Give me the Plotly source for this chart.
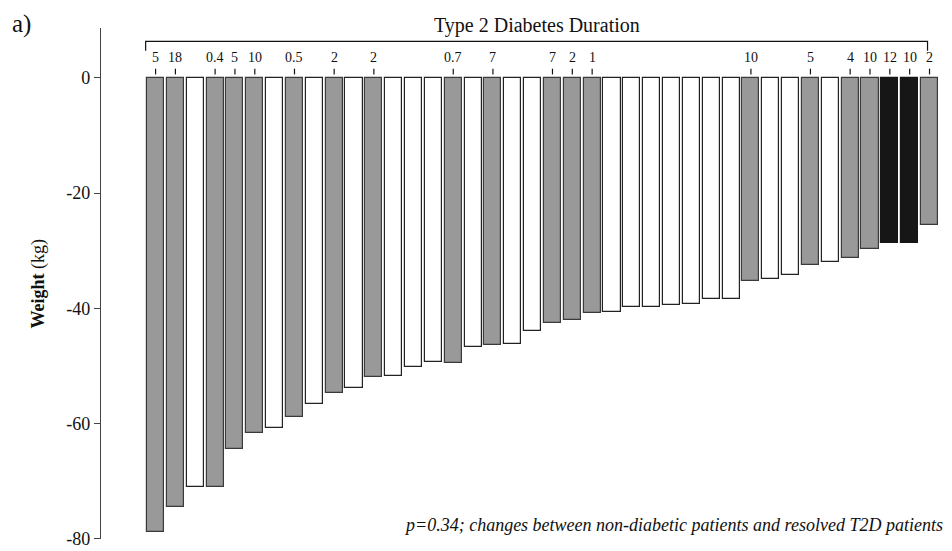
import plotly.graph_objects as go

# ---- data ----
patients = list(range(1, 41))
weight_change = [-78.9, -74.5, -71.0, -71.0, -64.4, -61.7, -60.8, -58.8, -56.6, -54.7,
                 -53.8, -52.0, -51.7, -50.2, -49.4, -49.5, -46.8, -46.4, -46.2, -44.0,
                 -42.5, -42.0, -40.9, -40.6, -39.8, -39.7, -39.4, -39.2, -38.4, -38.3,
                 -35.2, -34.9, -34.3, -32.5, -31.9, -31.3, -29.7, -28.7, -28.6, -25.5]
t2d_duration = ["5", "18", "", "0.4", "5", "10", "", "0.5", "", "2",
                "", "2", "", "", "", "0.7", "", "7", "", "",
                "7", "2", "1", "", "", "", "", "", "", "",
                "10", "", "", "5", "", "4", "10", "12", "10", "2"]
group = ["resolved", "resolved", "none", "resolved", "resolved", "resolved", "none", "resolved", "none", "resolved",
         "none", "resolved", "none", "none", "none", "resolved", "none", "resolved", "none", "none",
         "resolved", "resolved", "resolved", "none", "none", "none", "none", "none", "none", "none",
         "resolved", "none", "none", "resolved", "none", "resolved", "resolved", "persistent", "persistent", "resolved"]
ytick_vals = [0, -20, -40, -60, -80]
ytick_text = ["0", "-20", "-40", "-60", "-80"]

fill_map = {"resolved": "#999999", "none": "#ffffff", "persistent": "#161616"}
line_map = {"resolved": "#3a3a3a", "none": "#222222", "persistent": "#161616"}

FONT = "Liberation Serif, Times New Roman, serif"

fig = go.Figure()
fig.add_trace(go.Bar(
    x=patients, y=weight_change, width=0.86,
    marker=dict(color=[fill_map[g] for g in group],
                line=dict(color=[line_map[g] for g in group], width=1.2)),
    showlegend=False, hoverinfo="x+y",
))

shapes = []
annotations = []
# bracket across the top
x_left = patients[0] - 0.5
x_right = patients[-1] - 0.1
shapes.append(dict(type="path", xref="x", yref="y",
                   path=f"M {x_left},4.7 L {x_left},6.33 L {x_right},6.33 L {x_right},4.7",
                   line=dict(color="#111", width=1.2)))
annotations.append(dict(x=(x_left + x_right) / 2, y=6.33, xref="x", yref="y",
                        text="Type 2 Diabetes Duration", showarrow=False,
                        yanchor="bottom", yshift=2,
                        font=dict(family=FONT, size=20, color="#111")))
# duration labels
for p, d in zip(patients, t2d_duration):
    if d:
        shapes.append(dict(type="line", xref="x", yref="y", x0=p, x1=p, y0=0.6, y1=1.6,
                           line=dict(color="#111", width=1.2)))
        annotations.append(dict(x=p, y=3.5, xref="x", yref="y", text=d, showarrow=False,
                                yanchor="middle", font=dict(family=FONT, size=14, color="#111")))

annotations.append(dict(x=-0.0746, y=0.5, xref="paper", yref="paper", text="<b>Weight</b> (kg)",
                        textangle=-90, showarrow=False, xanchor="center", yanchor="middle",
                        font=dict(family=FONT, size=18, color="#111")))
annotations.append(dict(x=-0.108, y=1.0, xref="paper", yref="paper", text="a)",
                        showarrow=False, xanchor="left", yanchor="middle", yshift=4,
                        font=dict(family=FONT, size=25, color="#111")))
annotations.append(dict(x=1.0, y=-79.5, xref="paper", yref="y",
                        text="<i>p=0.34; changes between non-diabetic patients and resolved T2D patients</i>",
                        showarrow=False, xanchor="right", yanchor="bottom", yshift=-1,
                        font=dict(family=FONT, size=18, color="#111")))

fig.update_layout(
    width=944, height=551,
    margin=dict(l=93, r=7, t=20, b=20),
    paper_bgcolor="white", plot_bgcolor="white",
    shapes=shapes, annotations=annotations,
    bargap=0,
    xaxis=dict(range=[-1.75, 40.78], visible=False, fixedrange=True, automargin=False),
    yaxis=dict(range=[-80.05, 8.66], showgrid=False, zeroline=False, automargin=False,
               showline=True, linecolor="#444", linewidth=1.2,
               ticks="outside", ticklen=6, tickcolor="#444", tickwidth=1.2,
               tickvals=ytick_vals, ticktext=ytick_text, ticklabeloverflow="allow",
               tickfont=dict(family=FONT, size=18, color="#111")),
)

fig.write_html("out.html")
